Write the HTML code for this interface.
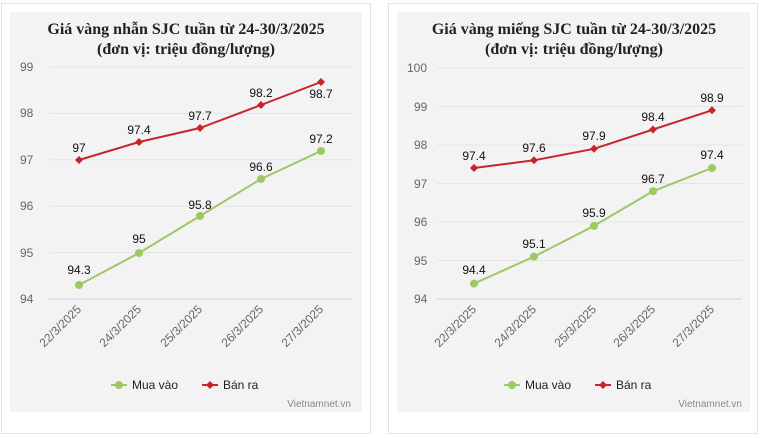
<html><head><style>body{margin:0;background:#fff}svg text{font-family:"Liberation Sans",sans-serif}</style></head><body>
<svg width="766" height="438" xmlns="http://www.w3.org/2000/svg">
<rect x="1.5" y="3.5" width="369" height="430" fill="#fff" stroke="#e2e2e2"/>
<rect x="10" y="12" width="352" height="400" fill="#f3f3f3"/>
<rect x="388.5" y="3.5" width="369" height="430" fill="#fff" stroke="#e2e2e2"/>
<rect x="397" y="12" width="353" height="400" fill="#f3f3f3"/>
<g font-weight="bold" font-size="16" text-anchor="middle" fill="#222">
<text x="186" y="34" style="font-family:'Liberation Serif',serif">Giá vàng nhẫn SJC tuần từ 24-30/3/2025</text>
<text x="186" y="54" style="font-family:'Liberation Serif',serif">(đơn vị: triệu đồng/lượng)</text>
<text x="574" y="34" style="font-family:'Liberation Serif',serif">Giá vàng miếng SJC tuần từ 24-30/3/2025</text>
<text x="574" y="54" style="font-family:'Liberation Serif',serif">(đơn vị: triệu đồng/lượng)</text>
</g>
<!-- left grid -->
<g stroke="#e4e4e4"><line x1="49" x2="352" y1="67" y2="67"/><line x1="49" x2="352" y1="113.4" y2="113.4"/><line x1="49" x2="352" y1="159.8" y2="159.8"/><line x1="49" x2="352" y1="206.2" y2="206.2"/><line x1="49" x2="352" y1="252.6" y2="252.6"/></g>
<line x1="49" x2="352" y1="299" y2="299" stroke="#c8d0e0"/>
<g font-size="12" fill="#666"><text x="20" y="71">99</text><text x="20" y="117">98</text><text x="20" y="164">97</text><text x="20" y="210">96</text><text x="20" y="257">95</text><text x="20" y="303">94</text></g>
<polyline points="79,285 139,253 200,216 261,179 321,151" fill="none" stroke="#9dc863" stroke-width="2"/>
<g fill="#9dc863"><circle cx="79" cy="285" r="4"/><circle cx="139" cy="253" r="4"/><circle cx="200" cy="216" r="4"/><circle cx="261" cy="179" r="4"/><circle cx="321" cy="151" r="4"/></g>
<polyline points="79,160 139,142 200,128 261,105 321,82" fill="none" stroke="#c8252b" stroke-width="2"/>
<g fill="#c8252b"><path d="M79 156l4 4-4 4-4-4z"/><path d="M139 138l4 4-4 4-4-4z"/><path d="M200 124l4 4-4 4-4-4z"/><path d="M261 101l4 4-4 4-4-4z"/><path d="M321 78l4 4-4 4-4-4z"/></g>
<g font-size="12" fill="#111" text-anchor="middle"><text x="79" y="274">94.3</text><text x="139" y="243">95</text><text x="200" y="209">95.8</text><text x="261" y="171">96.6</text><text x="321" y="143">97.2</text>
<text x="79" y="152">97</text><text x="139" y="134">97.4</text><text x="200" y="120">97.7</text><text x="261" y="97">98.2</text><text x="321" y="98">98.7</text></g>
<g font-size="12" fill="#666" text-anchor="end">
<text transform="translate(82,310) rotate(-45)">22/3/2025</text><text transform="translate(142,310) rotate(-45)">24/3/2025</text><text transform="translate(203,310) rotate(-45)">25/3/2025</text><text transform="translate(264,310) rotate(-45)">26/3/2025</text><text transform="translate(324,310) rotate(-45)">27/3/2025</text></g>
<line x1="111" x2="127" y1="385" y2="385" stroke="#9dc863" stroke-width="2"/><circle cx="119" cy="385" r="4" fill="#9dc863"/>
<text x="132" y="389" font-size="12" fill="#222">Mua vào</text>
<line x1="202" x2="218" y1="385" y2="385" stroke="#c8252b" stroke-width="2"/><path d="M210 381l4 4-4 4-4-4z" fill="#c8252b"/>
<text x="223" y="389" font-size="12" fill="#222">Bán ra</text>
<text x="351" y="407" font-size="10" fill="#888" text-anchor="end">Vietnamnet.vn</text>
<!-- right grid -->
<g stroke="#e4e4e4"><line x1="437" x2="742" y1="68" y2="68"/><line x1="437" x2="742" y1="106.5" y2="106.5"/><line x1="437" x2="742" y1="145" y2="145"/><line x1="437" x2="742" y1="183.5" y2="183.5"/><line x1="437" x2="742" y1="222" y2="222"/><line x1="437" x2="742" y1="260.5" y2="260.5"/></g>
<line x1="437" x2="742" y1="299" y2="299" stroke="#c8d0e0"/>
<g font-size="12" fill="#666"><text x="407" y="72">100</text><text x="414" y="111">99</text><text x="414" y="149">98</text><text x="414" y="188">97</text><text x="414" y="226">96</text><text x="414" y="265">95</text><text x="414" y="303">94</text></g>
<polyline points="474,283.6 534,256.6 594,225.9 653,191.2 712,168" fill="none" stroke="#9dc863" stroke-width="2"/>
<g fill="#9dc863"><circle cx="474" cy="283.6" r="4"/><circle cx="534" cy="256.6" r="4"/><circle cx="594" cy="225.9" r="4"/><circle cx="653" cy="191.2" r="4"/><circle cx="712" cy="168" r="4"/></g>
<polyline points="474,168 534,160.3 594,148.8 653,129.5 712,110.3" fill="none" stroke="#c8252b" stroke-width="2"/>
<g fill="#c8252b"><path d="M474 164l4 4-4 4-4-4z"/><path d="M534 156.3l4 4-4 4-4-4z"/><path d="M594 144.8l4 4-4 4-4-4z"/><path d="M653 125.5l4 4-4 4-4-4z"/><path d="M712 106.3l4 4-4 4-4-4z"/></g>
<g font-size="12" fill="#111" text-anchor="middle"><text x="474" y="274">94.4</text><text x="534" y="248">95.1</text><text x="594" y="217">95.9</text><text x="653" y="183">96.7</text><text x="712" y="159">97.4</text>
<text x="474" y="160">97.4</text><text x="534" y="152">97.6</text><text x="594" y="140">97.9</text><text x="653" y="121">98.4</text><text x="712" y="102">98.9</text></g>
<g font-size="12" fill="#666" text-anchor="end">
<text transform="translate(477,310) rotate(-45)">22/3/2025</text><text transform="translate(537,310) rotate(-45)">24/3/2025</text><text transform="translate(597,310) rotate(-45)">25/3/2025</text><text transform="translate(656,310) rotate(-45)">26/3/2025</text><text transform="translate(715,310) rotate(-45)">27/3/2025</text></g>
<line x1="504" x2="520" y1="385" y2="385" stroke="#9dc863" stroke-width="2"/><circle cx="512" cy="385" r="4" fill="#9dc863"/>
<text x="525" y="389" font-size="12" fill="#222">Mua vào</text>
<line x1="595" x2="611" y1="385" y2="385" stroke="#c8252b" stroke-width="2"/><path d="M603 381l4 4-4 4-4-4z" fill="#c8252b"/>
<text x="616" y="389" font-size="12" fill="#222">Bán ra</text>
<text x="742" y="407" font-size="10" fill="#888" text-anchor="end">Vietnamnet.vn</text>
</svg></body></html>
